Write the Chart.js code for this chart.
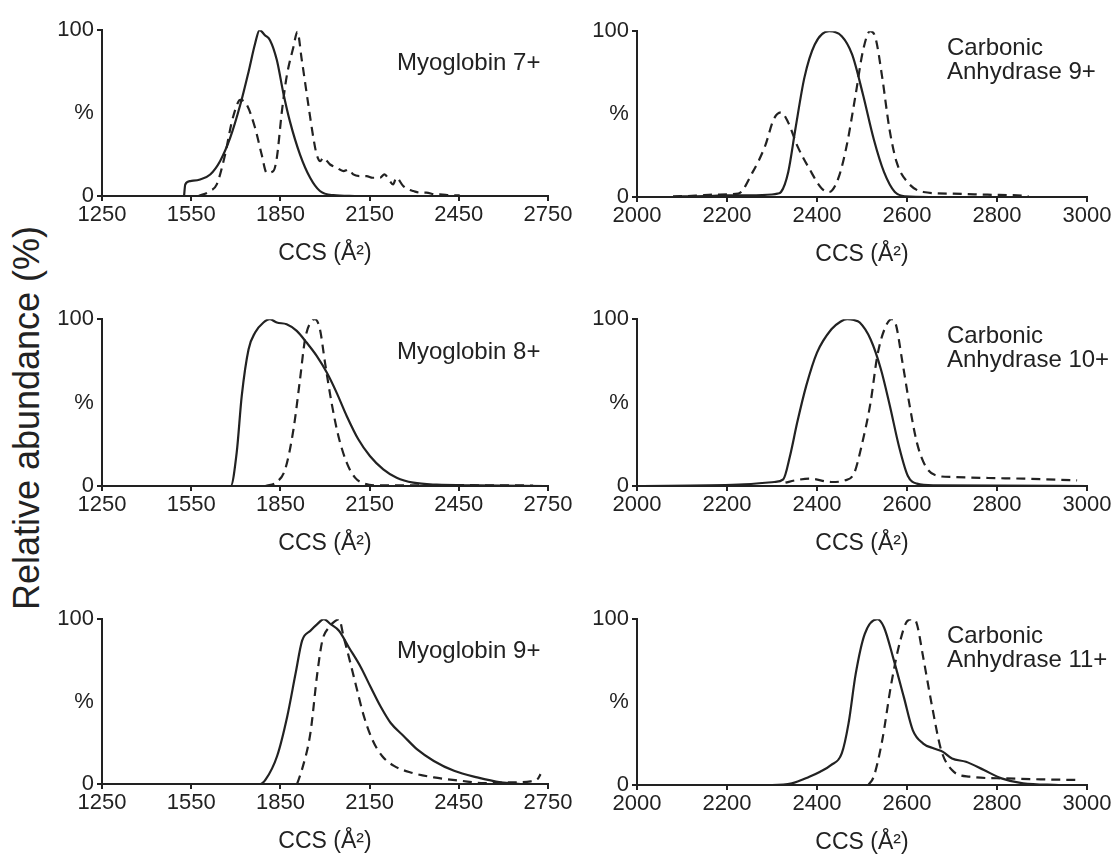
<!DOCTYPE html>
<html lang="en">
<head>
<meta charset="UTF-8">
<title>CCS distributions - Myoglobin / Carbonic Anhydrase</title>
<script src="https://cdn.jsdelivr.net/npm/chart.js"></script>
<style>
  body {
    margin: 0;
    background: #fff;
    width: 1117px;
    height: 855px;
    overflow: hidden;
    position: relative;
    font-family: "Liberation Sans", Arial, sans-serif;
  }
  .panel { position: absolute; }
  .ylabel {
    position: absolute;
    left: 27px;
    top: 418px;
    transform: translate(-50%, -50%) rotate(-90deg);
    font-size: 36px;
    color: #222;
    white-space: nowrap;
  }
</style>
</head>
<body>
<div class="ylabel">Relative abundance (%)</div>
<div class="panel" style="left:42px;top:14px;width:536px;height:253px"><canvas id="c1"></canvas></div>
<div class="panel" style="left:577px;top:15px;width:540px;height:253px"><canvas id="c2"></canvas></div>
<div class="panel" style="left:42px;top:303px;width:536px;height:254px"><canvas id="c3"></canvas></div>
<div class="panel" style="left:577px;top:303px;width:540px;height:254px"><canvas id="c4"></canvas></div>
<div class="panel" style="left:42px;top:603px;width:536px;height:252px"><canvas id="c5"></canvas></div>
<div class="panel" style="left:577px;top:603px;width:540px;height:253px"><canvas id="c6"></canvas></div>
<script>
// tick values
const myoTicks = [1250, 1550, 1850, 2150, 2450, 2750];
const caTicks = [2000, 2200, 2400, 2600, 2800, 3000];
const pctTicks = [0, 100];

// [CCS, relative abundance %]
const mb7Solid = [[1526,0],[1530,7],[1547,9],[1580,10],[1614,13],[1647,21],[1681,35],[1715,55],[1743,75],[1765,92],[1780,100],[1798,97],[1815,94],[1838,82],[1860,62],[1882,45],[1916,25],[1950,11],[1983,3],[2028,0.5],[2100,0]];
const mb7Dashed = [[1575,0],[1614,3],[1636,7],[1664,25],[1687,45],[1709,57],[1715,58],[1737,55],[1765,41],[1787,25],[1804,14],[1826,15],[1838,23],[1855,51],[1871,72],[1894,90],[1907,99],[1922,82],[1944,55],[1961,35],[1972,25],[1984,21],[1994,23],[2017,19],[2040,17],[2062,15],[2080,16],[2095,13],[2118,12],[2140,12],[2160,11],[2185,11],[2200,13],[2218,9],[2229,7],[2240,11],[2263,6],[2280,4],[2297,3],[2320,2],[2341,2],[2370,1],[2386,1],[2420,0.5],[2453,0.4]];

const ca9Solid = [[2080,0.3],[2150,0.5],[2200,1],[2250,1],[2300,1.5],[2312,2],[2320,3],[2336,15],[2352,41],[2372,72],[2395,92],[2427,100],[2455,97],[2478,86],[2502,62],[2526,35],[2549,15],[2573,3],[2597,0.4],[2650,0],[2870,0]];
const ca9Dashed = [[2080,0.3],[2130,0.8],[2180,1.5],[2225,2],[2257,15],[2285,31],[2304,47],[2320,51],[2336,45],[2356,31],[2383,17],[2411,5],[2427,3],[2447,11],[2466,31],[2486,62],[2502,88],[2518,100],[2530,96],[2545,72],[2561,41],[2577,21],[2601,9],[2636,3],[2700,2],[2779,1.4],[2858,0.8],[2870,0.5]];

const mb8Solid = [[1250,0],[1683,0],[1703,20],[1720,54],[1743,82],[1765,92],[1793,98],[1815,100],[1838,98],[1871,97],[1905,93],[1938,86],[1972,78],[2006,68],[2039,56],[2073,42],[2112,28],[2151,18],[2196,10],[2241,5],[2297,2],[2375,0.8],[2509,0.4],[2740,0]];
const mb8Dashed = [[1800,0],[1838,2.4],[1866,10],[1894,34],[1916,64],[1933,88],[1955,99],[1966,100],[1983,94],[2000,74],[2022,50],[2045,30],[2073,14],[2101,5],[2134,1.4],[2185,0.4],[2400,0.5],[2700,0.3]];

const ca10Solid = [[2000,0],[2226,0.8],[2305,2.4],[2325,4],[2340,18],[2356,38],[2376,60],[2400,80],[2432,94],[2452,98.5],[2467,100],[2482,99.5],[2495,98],[2519,88],[2542,70],[2562,48],[2582,24],[2602,6],[2622,1.4],[2661,0.4],[3000,0]];
const ca10Dashed = [[2330,2],[2352,3.4],[2384,4.4],[2432,2.4],[2463,3.4],[2483,8],[2499,24],[2519,50],[2534,78],[2550,94],[2566,100],[2574,98],[2590,74],[2606,48],[2622,26],[2641,12],[2669,6],[2701,5.4],[2780,4.8],[2859,4.4],[2978,3.4]];

const mb9Solid = [[1250,0],[1783,0],[1800,2.6],[1839,17],[1873,41],[1901,67],[1923,87],[1951,93],[1974,97],[1996,100],[2019,97],[2047,93],[2080,83],[2120,71],[2153,59],[2187,47],[2221,37],[2265,29],[2310,21],[2366,14],[2434,8],[2512,4],[2591,1],[2658,0]];
const mb9Dashed = [[1906,0],[1923,9],[1951,31],[1974,67],[1991,87],[2013,95],[2035,99],[2047,100],[2063,89],[2086,73],[2108,57],[2131,41],[2159,27],[2192,17],[2232,11],[2288,7],[2366,4],[2456,2],[2535,0.6],[2624,1],[2692,1.6],[2715,3],[2725,6]];

const ca11Solid = [[2000,0],[2300,0],[2344,1],[2383,5],[2407,8],[2431,12],[2455,19],[2470,37],[2486,67],[2506,91],[2534,100],[2549,95],[2569,77],[2593,53],[2613,33],[2636,25],[2660,22],[2680,20],[2700,16],[2731,14],[2771,9],[2810,4],[2858,1],[2937,0]];
const ca11Dashed = [[2514,0],[2526,5],[2545,27],[2565,61],[2585,87],[2601,99],[2613,100],[2621,98],[2636,77],[2656,47],[2676,21],[2700,9],[2739,5],[2818,4],[2897,3.4],[2984,3]];

Chart.defaults.font.family = '"Liberation Sans", Arial, sans-serif';
Chart.defaults.color = '#222';

const ink = '#222';

// draws the "%" axis label and the panel name
const panelText = {
  id: 'panelText',
  afterDraw(chart, args, opts) {
    const ctx = chart.ctx;
    const area = chart.chartArea;
    ctx.save();
    ctx.fillStyle = ink;
    ctx.font = '22px "Liberation Sans", Arial, sans-serif';
    ctx.textAlign = 'center';
    ctx.textBaseline = 'middle';
    ctx.fillText('%', area.left - 18, (area.top + area.bottom) / 2);
    ctx.font = '24px "Liberation Sans", Arial, sans-serif';
    ctx.textAlign = 'left';
    ctx.textBaseline = 'alphabetic';
    opts.lines.forEach((line, i) => {
      ctx.fillText(line, area.left + opts.dx, area.top + opts.dy + i * 24);
    });
    ctx.restore();
  }
};

function makePanel(id, solid, dashed, ticks, lines, dx, dy) {
  return new Chart(document.getElementById(id), {
    type: 'line',
    data: {
      datasets: [{
        data: solid,
        borderColor: ink,
        borderWidth: 2.2,
        pointRadius: 0,
        cubicInterpolationMode: 'monotone'
      }, {
        data: dashed,
        borderColor: ink,
        borderWidth: 2.2,
        borderDash: [9, 6],
        pointRadius: 0,
        cubicInterpolationMode: 'monotone'
      }]
    },
    options: {
      responsive: true,
      maintainAspectRatio: false,
      animation: false,
      layout: { padding: { top: 15, right: 30, left: 0, bottom: 0 } },
      plugins: {
        legend: { display: false },
        tooltip: { enabled: false },
        panelText: { lines: lines, dx: dx, dy: dy }
      },
      scales: {
        x: {
          type: 'linear',
          min: ticks[0],
          max: ticks[ticks.length - 1],
          afterBuildTicks: s => { s.ticks = ticks.map(v => ({ value: v })); },
          afterFit: s => { s.height = 71; },
          ticks: { font: { size: 22 }, color: ink, padding: 1, maxRotation: 0, callback: v => String(v) },
          grid: { drawOnChartArea: false, drawTicks: true, tickLength: 5, color: ink, lineWidth: 2 },
          border: { display: true, color: ink, width: 2 },
          title: { display: true, text: 'CCS (Å²)', font: { size: 23 }, color: ink, padding: 0 }
        },
        y: {
          min: 0,
          max: 100,
          afterBuildTicks: s => { s.ticks = pctTicks.map(v => ({ value: v })); },
          afterFit: s => { s.width = 60; },
          ticks: { font: { size: 22 }, color: ink, padding: 3, callback: v => String(v) },
          grid: { drawOnChartArea: false, drawTicks: true, tickLength: 5, color: ink, lineWidth: 2 },
          border: { display: true, color: ink, width: 2 }
        }
      }
    },
    plugins: [panelText]
  });
}

makePanel('c1', mb7Solid, mb7Dashed, myoTicks, ['Myoglobin 7+'], 295, 40);
makePanel('c2', ca9Solid, ca9Dashed, caTicks, ['Carbonic', 'Anhydrase 9+'], 310, 24);
makePanel('c3', mb8Solid, mb8Dashed, myoTicks, ['Myoglobin 8+'], 295, 40);
makePanel('c4', ca10Solid, ca10Dashed, caTicks, ['Carbonic', 'Anhydrase 10+'], 310, 24);
makePanel('c5', mb9Solid, mb9Dashed, myoTicks, ['Myoglobin 9+'], 295, 39);
makePanel('c6', ca11Solid, ca11Dashed, caTicks, ['Carbonic', 'Anhydrase 11+'], 310, 24);
</script>
</body>
</html>
